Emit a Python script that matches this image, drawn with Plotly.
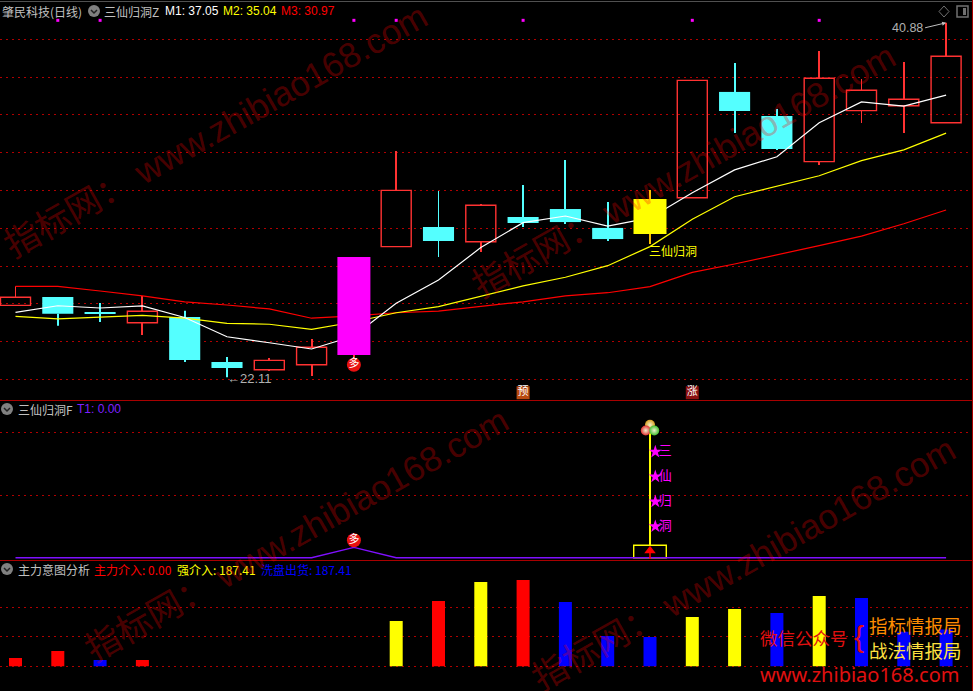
import plotly.graph_objects as go

W, H = 973, 691

# ---------- main pane data ----------
candle_x = list(range(23))
opens  = [25.92,26.36,25.57,25.00,25.30,22.92,22.51,22.78,23.29,29.03,30.07,29.29,30.60,31.02,30.02,29.70,31.62,37.22,35.94,33.53,36.23,36.49,35.59]
closes = [26.35,25.48,25.46,25.61,23.03,22.60,23.01,23.70,28.48,32.01,29.33,31.22,30.28,30.33,29.43,31.55,37.83,36.21,34.20,37.94,37.31,36.83,39.11]
highs  = [26.93,26.36,26.05,26.42,25.64,23.19,23.13,24.14,28.48,34.09,31.97,31.29,32.29,33.62,31.39,32.03,37.83,38.75,36.32,39.39,37.90,38.80,40.88]
lows   = [25.92,24.84,25.04,24.35,22.92,22.11,22.45,22.18,23.12,29.03,28.48,28.75,30.07,30.23,29.33,29.17,31.62,35.05,34.15,33.35,35.57,35.05,35.59]
special_colors = {8: "#ff00ff", 15: "#ffff00"}

m1 = [25.55,25.90,25.78,25.89,25.28,24.26,23.94,23.61,24.30,26.03,27.26,28.98,30.30,30.65,30.12,30.55,31.88,33.09,33.79,35.59,36.69,36.47,37.05]
m2 = [25.34,25.21,25.30,25.39,25.24,24.97,24.92,24.65,25.04,25.53,25.85,26.38,26.95,27.41,28.02,29.03,30.48,31.67,32.24,32.78,33.58,34.15,35.04]
m3 = [26.93,26.93,26.68,26.42,26.11,25.94,25.73,25.24,25.36,25.53,25.62,25.85,26.11,26.42,26.59,26.91,27.67,28.11,28.59,29.08,29.59,30.24,30.97]

signal_x = [1,2,8,9,12,16,19]
signal_level = 41.01
duo_price = 22.78
tag_x = [12,16]
tag_text = ["预","涨"]
tag_color = ["#b84a10","#8a1010"]
tag_price = 21.30

# ---------- middle pane data ----------
t1 = [0,0,0,0,0,0,0,0,8.3,0,0,0,0,0,0,0,0,0,0,0,0,0,0]
signal_idx = 15
star_values = [84.5,64.7,44.8,25.0]
star_labels = ["三","仙","归","洞"]
box_top = 10
stem_top = 100
ball_x = [15.0,14.9,15.1]
ball_v = [106,101.5,101.5]
ball_colors = ["#d8a020","#e03030","#40c030"]

# ---------- bottom pane data ----------
zl = [42,78,None,32,None,None,None,None,None,None,332,None,439,None,None,None,None,None,None,None,None,None,None]
qj = [None,None,None,None,None,None,None,None,None,230,None,429,None,None,None,None,251,291,None,357,None,None,None]
xp = [None,None,32,None,None,None,None,None,None,None,None,None,None,327,154,149,None,None,271,None,347,176,187.41]

# ---------- styles ----------
RED = "#ff3232"
CYAN = "#54ffff"
GRID = "#b00000"
GRAY = "#c0c0c0"
CJK = "Noto Sans CJK SC"
LAT = "Liberation Sans, Noto Sans CJK SC"

def px(x): return x / W
def py(y): return 1 - y / H

fig = go.Figure()
WICK = 1.0 / 42.3

def bar(x, base, top, color, width, yaxis="y", outline=None, fill=None):
    fig.add_trace(go.Bar(
        x=x, base=base, y=[t - b for t, b in zip(top, base)], width=width,
        marker=dict(color=fill if fill else color,
                    line=dict(color=outline or color, width=1.4 if outline else 0)),
        yaxis=yaxis, hoverinfo="skip", showlegend=False))

# wicks
for i in candle_x:
    t, b = max(opens[i], closes[i]), min(opens[i], closes[i])
    col = RED if closes[i] > opens[i] else CYAN
    if i == 8: col = RED
    if i == 15: col = "#ffc000"
    axis = "y4" if i in special_colors else "y"
    segs = []
    if highs[i] > t: segs.append((t, highs[i]))
    if lows[i] < b: segs.append((lows[i], b))
    for lo, hi in segs:
        bar([i], [lo], [hi], col, WICK, axis)

# regular bodies
down = [i for i in candle_x if closes[i] < opens[i] and i not in special_colors]
up = [i for i in candle_x if closes[i] > opens[i] and i not in special_colors]
bar(down, [closes[i] for i in down], [opens[i] for i in down], CYAN, 0.735)
bar(up, [opens[i] for i in up], [closes[i] for i in up], RED, 0.71, outline=RED, fill="rgba(0,0,0,0)")

# highlighted bodies above the averages
for i, c in special_colors.items():
    bar([i], [opens[i]], [closes[i]], c, 0.78, "y4")

# moving averages
for vals, c in [(m3, "#ff0000"), (m2, "#ffff00"), (m1, "#ffffff")]:
    fig.add_trace(go.Scatter(x=candle_x, y=vals, mode="lines", line=dict(color=c, width=1.2),
                             yaxis="y", hoverinfo="skip", showlegend=False))

# signal dots
fig.add_trace(go.Scatter(x=signal_x, y=[signal_level]*len(signal_x), mode="markers",
    marker=dict(symbol="square", size=3, color="#ff00ff"), yaxis="y4", hoverinfo="skip", showlegend=False))

def badge(x, y, txt, color, symbol, axis, size):
    fig.add_trace(go.Scatter(x=x, y=y, mode="markers+text", text=txt, textposition="middle center",
        textfont=dict(family=CJK, size=11, color="#ffffff"),
        marker=dict(symbol=symbol, size=size, color=color), yaxis=axis, hoverinfo="skip", showlegend=False))

badge([8], [duo_price], ["多"], "#e81010", "circle", "y4", 14)
for tx, tt, tc in zip(tag_x, tag_text, tag_color):
    badge([tx], [tag_price], [tt], tc, "square", "y4", 13)

# ---------- middle pane ----------
bar([signal_idx], [box_top], [stem_top], "#ffff00", WICK, "y2")
bar([signal_idx], [0], [box_top], "#ffff00", 0.77, "y2", outline="#ffff00", fill="rgba(0,0,0,0)")
fig.add_trace(go.Scatter(x=candle_x, y=t1, mode="lines", line=dict(color="#7f10ff", width=1.3),
                         yaxis="y2", hoverinfo="skip", showlegend=False))
fig.add_trace(go.Scatter(x=[signal_idx, signal_idx], y=[-1, 5], mode="lines", line=dict(color="#ff0000", width=1.5),
                         yaxis="y2", hoverinfo="skip", showlegend=False))
fig.add_trace(go.Scatter(x=[signal_idx], y=[5.5], mode="markers",
    marker=dict(symbol="triangle-up", size=10, color="#ff0000"), yaxis="y2", hoverinfo="skip", showlegend=False))
fig.add_trace(go.Scatter(x=[signal_idx + 0.125]*4, y=star_values, mode="markers",
    marker=dict(symbol="star", size=10, color="#ff00ff"), yaxis="y2", hoverinfo="skip", showlegend=False))
fig.add_trace(go.Scatter(x=[signal_idx + 0.36]*4, y=star_values, mode="text", text=star_labels,
    textposition="middle center", textfont=dict(family=CJK, size=13, color="#ff00ff"),
    yaxis="y2", hoverinfo="skip", showlegend=False))
fig.add_trace(go.Scatter(x=ball_x, y=ball_v, mode="markers",
    marker=dict(size=10, color=ball_colors, gradient=dict(type="radial", color="#f0f0d0")),
    yaxis="y2", hoverinfo="skip", showlegend=False))
badge([8], [14], ["多"], "#e81010", "circle", "y2", 14)

# ---------- bottom pane ----------
for vals, c in [(zl, "#ff0000"), (qj, "#ffff00"), (xp, "#0000ff")]:
    xs = [i for i, v in enumerate(vals) if v is not None]
    bar(xs, [0]*len(xs), [vals[i] for i in xs], c, 13/42.3, "y3")

# ---------- text ----------
ann = []
def label(x, y, text, color, size=12, family=CJK, anchor="left"):
    ann.append(dict(xref="paper", yref="paper", x=px(x), y=py(y), text=text, showarrow=False,
                    xanchor=anchor, yanchor="middle", font=dict(family=family, size=size, color=color)))

label(0, 11, "肇民科技(日线)", GRAY)
label(102, 11, "三仙归洞Z", GRAY)
label(163, 11, "M1: 37.05", "#ffffff", 12, LAT)
label(221, 11, "M2: 35.04", "#ffff00", 12, LAT)
label(279, 11, "M3: 30.97", "#ff0000", 12, LAT)
label(16, 409, "三仙归洞F", GRAY)
label(75, 409, "T1: 0.00", "#7f20ff", 12, LAT)
label(16, 569, "主力意图分析", GRAY)
label(92, 569, "主力介入: 0.00", "#ff0000")
label(175, 569, "强介入: 187.41", "#ffff00")
label(259, 569, "洗盘出货: 187.41", "#0000ff")
label(758, 637, "微信公众号", "#e01010", 17.5)
label(852, 636, "{", "#e01010", 30, LAT)
label(867, 625, "指标情报局", "#ff8c00", 18.5)
label(867, 650, "战法情报局", "#ffe040", 18.5)
label(758, 674, "www.zhibiao168.com", "#e01010", 20, "Noto Sans")

ann.append(dict(xref="x", yref="y", x=5, y=lows[5], text="←22.11", showarrow=False, xanchor="left", yanchor="middle",
                xshift=-2, yshift=-1, font=dict(family=LAT, size=13, color="#b0b0b0")))
ann.append(dict(xref="x", yref="y", x=22, y=highs[22], text="40.88", showarrow=True, arrowhead=2, arrowsize=0.8, arrowwidth=1,
                arrowcolor="#c0c0c0", ax=-21, ay=5, xanchor="right", font=dict(family=LAT, size=12.5, color="#b0b0b0")))
ann.append(dict(xref="x", yref="y", x=15, y=28.85, text="三仙归洞", showarrow=False, xanchor="left", yanchor="middle",
                xshift=-3, font=dict(family=CJK, size=12, color="#ffff00")))

for cx, cy in [(215, 130), (683, 170), (296, 534), (743, 563)]:
    ann.append(dict(xref="paper", yref="paper", x=px(cx), y=py(cy), text="指标网： www.zhibiao168.com", showarrow=False,
                    textangle=-29.4, xanchor="center", yanchor="middle",
                    font=dict(family=LAT, size=35, color="rgba(255,0,0,0.3)")))

# ---------- chrome ----------
shapes = []
def hline(y, color):
    shapes.append(dict(type="line", xref="paper", yref="paper", x0=0, x1=1, y0=py(y), y1=py(y), line=dict(color=color, width=1)))
hline(1.5, "#505050")
hline(400.5, "#a80000")
hline(560.5, "#a80000")
shapes.append(dict(type="line", xref="paper", yref="paper", x0=px(972.5), x1=px(972.5), y0=0, y1=1, line=dict(color="#a80000", width=1)))

def chevron(cx, cy):
    shapes.append(dict(type="circle", xref="paper", yref="paper", x0=px(cx-6), x1=px(cx+6), y0=py(cy+6), y1=py(cy-6),
                       fillcolor="#808080", line=dict(width=0)))
    shapes.append(dict(type="path", xref="paper", yref="paper",
                       path=f"M {px(cx-3)} {py(cy-1)} L {px(cx)} {py(cy+2)} L {px(cx+3)} {py(cy-1)}",
                       line=dict(color="#202020", width=1.5)))
chevron(94, 11); chevron(7, 409); chevron(7, 569)
shapes.append(dict(type="path", xref="paper", yref="paper",
                   path=f"M {px(944)} {py(6)} L {px(949)} {py(11.5)} L {px(944)} {py(17)} L {px(939)} {py(11.5)} Z",
                   line=dict(color="#707070", width=1)))
shapes.append(dict(type="rect", xref="paper", yref="paper", x0=px(957), x1=px(968), y0=py(17), y1=py(6),
                   line=dict(color="#707070", width=1.5)))
shapes.append(dict(type="rect", xref="paper", yref="paper", x0=px(963), x1=px(966), y0=py(15), y1=py(8),
                   fillcolor="#707070", line=dict(width=0)))

def yax(dom_top, dom_bot, lo, hi, ticks):
    return dict(domain=[py(dom_bot), py(dom_top)], range=[lo, hi], tickvals=ticks, showgrid=True,
                gridcolor=GRID, gridwidth=1, griddash="2px,4px", zeroline=False, showline=False,
                ticks="", showticklabels=False, fixedrange=True)

y_main = yax(0, 400.5, 20.884, 42.086, list(range(22, 41, 2)))
y_mid = yax(400.5, 560.5, -2.2, 125.4, [50, 100])
y_low = yax(560.5, 691, -125.6, 537.9, [0, 150, 300])
y_over = dict(overlaying="y", range=[20.884, 42.086], showgrid=False, zeroline=False, showline=False,
              ticks="", showticklabels=False, fixedrange=True)

fig.update_layout(
    width=W, height=H, margin=dict(l=0, r=0, t=0, b=0, pad=0), autosize=False,
    paper_bgcolor="#000000", plot_bgcolor="#000000", barmode="overlay", showlegend=False,
    xaxis=dict(range=[-0.3664, 22.636], showgrid=False, zeroline=False, showline=False, ticks="",
               showticklabels=False, fixedrange=True, domain=[0, 1]),
    yaxis=y_main, yaxis2=y_mid, yaxis3=y_low, yaxis4=y_over,
    annotations=ann, shapes=shapes,
)

fig.write_html("out.html", config=dict(displayModeBar=False),
               post_script="document.body.style.margin='0';document.body.style.background='#000';")
